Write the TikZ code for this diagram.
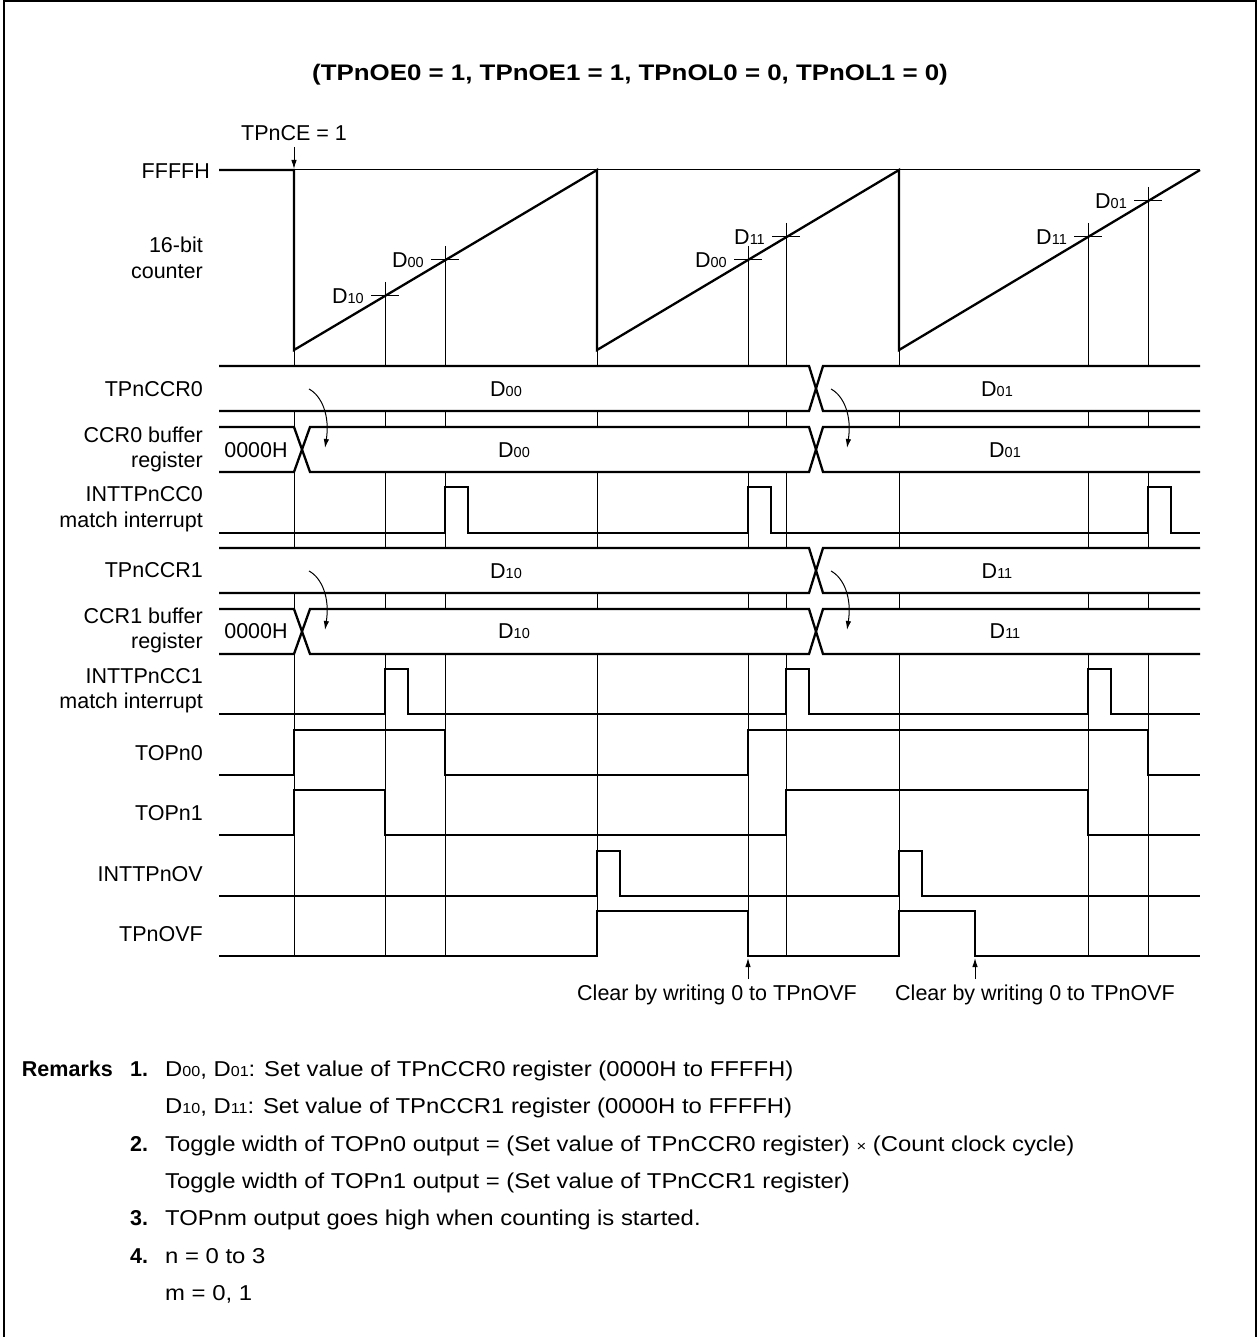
\documentclass[tikz,border=0pt]{standalone}
\usepackage{fontspec}
\setmainfont{Liberation Sans}
\newfontfamily\remfont[FakeStretch=1.11]{Liberation Sans}
\newfontfamily\titlefont[FakeStretch=1.15]{Liberation Sans}
\usetikzlibrary{arrows.meta}
\newcommand\Dd[1]{D{\fontsize{14.5}{14.5}\selectfont #1}}
\newcommand\smtimes{{\fontsize{15}{15}\selectfont ×}}
\begin{document}
\begin{tikzpicture}[x=1pt,y=-1pt,
  txt/.style={font=\fontsize{21.5}{26}\selectfont, inner sep=0pt, text height=15.4pt, text depth=0pt},
  btxt/.style={txt, font=\bfseries\fontsize{21.5}{26}\selectfont},
  rtxt/.style={txt, font=\remfont\fontsize{21.5}{26}\selectfont, anchor=west},
  ttxt/.style={txt, font=\titlefont\bfseries\fontsize{22.5}{27}\selectfont, text height=16.1pt},
  lab/.style={txt, anchor=east},
  sig/.style={line width=2.3pt, line join=miter},
  gridline/.style={line width=1pt},
  arr/.style={line width=1pt, -{Latex[length=9pt,width=5.5pt]}},
  busfill/.style={fill=white},
]
\useasboundingbox (0,0) rectangle (1259,1337);
% frame
\draw[line width=2.2pt] (4,1337) -- (4,1.1) -- (1256,1.1) -- (1256,1337);
% title
\node[ttxt] (title) at (630,72) {(TPnOE0 = 1, TPnOE1 = 1, TPnOL0 = 0, TPnOL1 = 0)};
% start
\node[txt] (ce) at (294,133) {TPnCE = 1};
\coordinate (cetip) at (294,169);
\draw[arr] (ce.south) ++(0,6) -- (cetip);

% time grid lines
\foreach \x/\yt in {294/170, 385/282, 445/246, 597/170, 748/246, 786/223, 899/170, 1088/223, 1148/187}
  \draw[gridline] (\x,\yt) -- (\x,956);
\draw[gridline] (294,170) -- (1200,170);
% ticks on counter
\foreach \x/\y/\t in {385/296/10, 445/260/00, 748/260/00, 786/237/11, 1088/237/11, 1148/201/01}{
  \draw[gridline] (\x-14,\y) -- (\x+14,\y);
  \node[txt, anchor=east] (tk\x) at (\x-21,\y) {\Dd{\t}};
}
% counter
\draw[sig] (219,170) -- (294,170) -- (294,350) -- (597,170) -- (597,350) -- (899,170) -- (899,350) -- (1200,170);

% labels
\node[lab] (lff) at (210,171) {FFFFH};
\node[lab] (l16) at (203,245) {16-bit};
\node[lab] (lcnt) at (203,271) {counter};
\node[lab] (lccr0) at (203,389) {TPnCCR0};
\node[lab] (lb0a) at (203,435) {CCR0 buffer};
\node[lab] (lb0b) at (203,460) {register};
\node[lab] (li0a) at (203,494) {INTTPnCC0};
\node[lab] (li0b) at (203,520) {match interrupt};
\node[lab] (lccr1) at (203,570) {TPnCCR1};
\node[lab] (lb1a) at (203,616) {CCR1 buffer};
\node[lab] (lb1b) at (203,641) {register};
\node[lab] (li1a) at (203,676) {INTTPnCC1};
\node[lab] (li1b) at (203,701) {match interrupt};
\node[lab] (lto0) at (203,753) {TOPn0};
\node[lab] (lto1) at (203,813) {TOPn1};
\node[lab] (lov) at (203,874) {INTTPnOV};
\node[lab] (lovf) at (203,934) {TPnOVF};

% buses
\foreach \yt/\yb in {366/411, 427/472, 548/593, 609/654}
  \fill[busfill] (219,\yt) rectangle (1200,\yb);
% TPnCCR0 / TPnCCR1
\foreach \yt/\yb in {366/411, 548/593}{
  \draw[sig] (219,\yt) -- (809,\yt) -- (823,\yb) -- (1200,\yb);
  \draw[sig] (219,\yb) -- (809,\yb) -- (823,\yt) -- (1200,\yt);
}
% buffers
\foreach \yt/\yb in {427/472, 609/654}{
  \draw[sig] (219,\yt) -- (294,\yt) -- (310,\yb) -- (809,\yb) -- (823,\yt) -- (1200,\yt);
  \draw[sig] (219,\yb) -- (294,\yb) -- (310,\yt) -- (809,\yt) -- (823,\yb) -- (1200,\yb);
}
\node[txt] (v00a) at (506,389) {\Dd{00}};
\node[txt] (v01a) at (997,389) {\Dd{01}};
\node[txt] (v00b) at (514,450) {\Dd{00}};
\node[txt] (v01b) at (1005,450) {\Dd{01}};
\node[txt] (z0) at (256,450) {0000H};
\node[txt] (v10a) at (506,571) {\Dd{10}};
\node[txt] (v11a) at (997,571) {\Dd{11}};
\node[txt] (v10b) at (514,631) {\Dd{10}};
\node[txt] (v11b) at (1005,631) {\Dd{11}};
\node[txt] (z1) at (256,631) {0000H};
% transfer arrows
\foreach \xs/\ys in {309/389, 831/389, 309/571, 831/571}{
  \draw[arr] (\xs,\ys) .. controls (\xs+13,\ys+7) and (\xs+21,\ys+27) .. (\xs+16,\ys+59);
}

% pulse signals
\draw[sig] (219,533) -- (445,533) -- (445,487) -- (468,487) -- (468,533) -- (748,533) -- (748,487) -- (771,487) -- (771,533) -- (1148,533) -- (1148,487) -- (1171,487) -- (1171,533) -- (1200,533);
\draw[sig] (219,714) -- (385,714) -- (385,669) -- (408,669) -- (408,714) -- (786,714) -- (786,669) -- (809,669) -- (809,714) -- (1088,714) -- (1088,669) -- (1111,669) -- (1111,714) -- (1200,714);
\draw[sig] (219,775) -- (294,775) -- (294,730) -- (445,730) -- (445,775) -- (748,775) -- (748,730) -- (1148,730) -- (1148,775) -- (1200,775);
\draw[sig] (219,835) -- (294,835) -- (294,790) -- (385,790) -- (385,835) -- (786,835) -- (786,790) -- (1088,790) -- (1088,835) -- (1200,835);
\draw[sig] (219,896) -- (597,896) -- (597,851) -- (620,851) -- (620,896) -- (899,896) -- (899,851) -- (922,851) -- (922,896) -- (1200,896);
\draw[sig] (219,956) -- (597,956) -- (597,911) -- (748,911) -- (748,956) -- (899,956) -- (899,911) -- (975,911) -- (975,956) -- (1200,956);

% clear notes
\coordinate (cl1) at (748,979);
\coordinate (cl1t) at (748,958);
\coordinate (cl2) at (975,979);
\coordinate (cl2t) at (975,958);
\draw[arr] (cl1) -- (cl1t);
\draw[arr] (cl2) -- (cl2t);
\node[txt] (clr1) at (717,993) {Clear by writing 0 to TPnOVF};
\node[txt] (clr2) at (1035,993) {Clear by writing 0 to TPnOVF};

% remarks
\node[btxt, anchor=east] (rem) at (113,1069) {Remarks};
\node[btxt, anchor=west] (n1) at (130,1069) {1.};
\node[rtxt] (r1a) at (165,1069) {\Dd{00}, \Dd{01}: Set value of TPnCCR0 register (0000H to FFFFH)};
\node[rtxt] (r1b) at (165,1106) {\Dd{10}, \Dd{11}: Set value of TPnCCR1 register (0000H to FFFFH)};
\node[btxt, anchor=west] (n2) at (130,1144) {2.};
\node[rtxt] (r2a) at (165,1144) {Toggle width of TOPn0 output = (Set value of TPnCCR0 register) \smtimes{} (Count clock cycle)};
\node[rtxt] (r2b) at (165,1181) {Toggle width of TOPn1 output = (Set value of TPnCCR1 register)};
\node[btxt, anchor=west] (n3) at (130,1218) {3.};
\node[rtxt] (r3) at (165,1218) {TOPnm output goes high when counting is started.};
\node[btxt, anchor=west] (n4) at (130,1256) {4.};
\node[rtxt] (r4a) at (165,1256) {n = 0 to 3};
\node[rtxt] (r4b) at (165,1293) {m = 0, 1};
\end{tikzpicture}
\end{document}
